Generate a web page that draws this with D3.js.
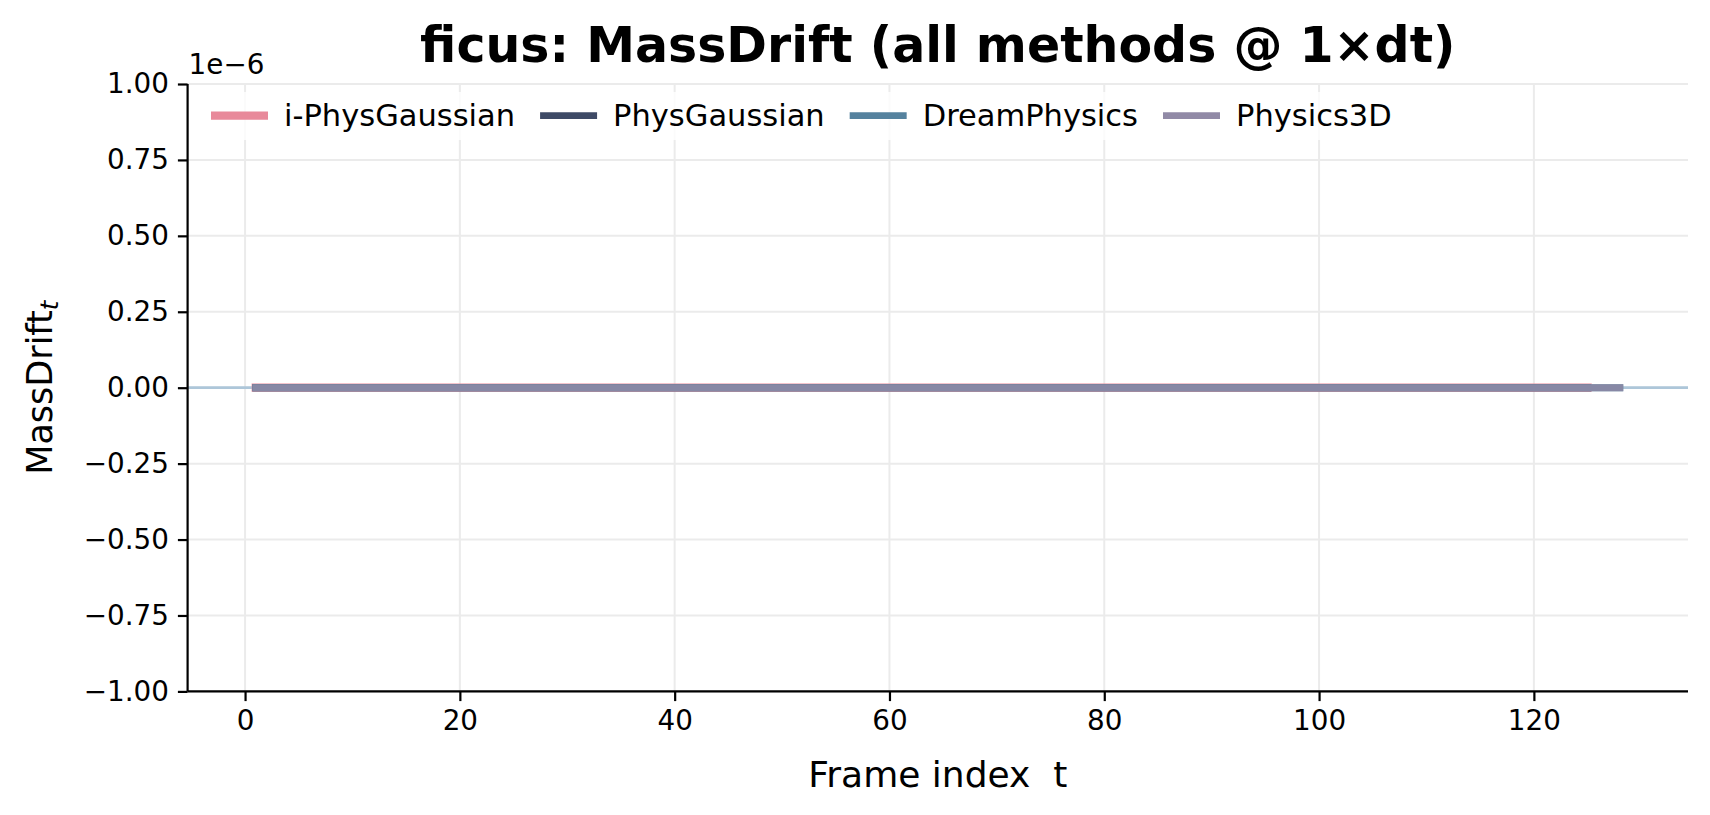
<!DOCTYPE html>
<html lang="en">
  <head>
    <meta charset="UTF-8" />
    <title>ficus MassDrift</title>
    <script src="https://d3js.org/d3.v7.min.js"></script>
    <style>
      body {
        margin: 0;
        background: #fff;
      }
      svg {
        display: block;
        font-family: "DejaVu Sans", sans-serif;
      }
      .tick text {
        font-size: 27.8px;
        fill: #000;
      }
    </style>
  </head>
  <body>
    <svg id="chart"></svg>
    <script>
      // methods, colours and line widths (legend order = draw order)
      const methods = ["i-PhysGaussian", "PhysGaussian", "DreamPhysics", "Physics3D"];
      const colors = ["#e8899a", "#3e4a66", "#55829e", "#918aa6"];
      const firstFrame = [1, 1, 1, 1];

      // MassDrift_t: every method sits flat on 0
      const iPhysGaussian = [
        0, 0, 0, 0, 0, 0, 0, 0, 0, 0, 0, 0, 0, 0, 0, 0, 0, 0, 0, 0, 0, 0, 0, 0, 0,
        0, 0, 0, 0, 0, 0, 0, 0, 0, 0, 0, 0, 0, 0, 0, 0, 0, 0, 0, 0, 0, 0, 0, 0, 0,
        0, 0, 0, 0, 0, 0, 0, 0, 0, 0, 0, 0, 0, 0, 0, 0, 0, 0, 0, 0, 0, 0, 0, 0, 0,
        0, 0, 0, 0, 0, 0, 0, 0, 0, 0, 0, 0, 0, 0, 0, 0, 0, 0, 0, 0, 0, 0, 0, 0, 0,
        0, 0, 0, 0, 0, 0, 0, 0, 0, 0, 0, 0, 0, 0, 0, 0, 0, 0, 0, 0, 0, 0, 0, 0, 0
      ];
      const physGaussian = [
        0, 0, 0, 0, 0, 0, 0, 0, 0, 0, 0, 0, 0, 0, 0, 0, 0, 0, 0, 0, 0, 0, 0, 0, 0,
        0, 0, 0, 0, 0, 0, 0, 0, 0, 0, 0, 0, 0, 0, 0, 0, 0, 0, 0, 0, 0, 0, 0, 0, 0,
        0, 0, 0, 0, 0, 0, 0, 0, 0, 0, 0, 0, 0, 0, 0, 0, 0, 0, 0, 0, 0, 0, 0, 0, 0,
        0, 0, 0, 0, 0, 0, 0, 0, 0, 0, 0, 0, 0, 0, 0, 0, 0, 0, 0, 0, 0, 0, 0, 0, 0,
        0, 0, 0, 0, 0, 0, 0, 0, 0, 0, 0, 0, 0, 0, 0, 0, 0, 0, 0, 0, 0, 0, 0, 0, 0
      ];
      const dreamPhysics = [
        0, 0, 0, 0, 0, 0, 0, 0, 0, 0, 0, 0, 0, 0, 0, 0, 0, 0, 0, 0, 0, 0, 0, 0, 0,
        0, 0, 0, 0, 0, 0, 0, 0, 0, 0, 0, 0, 0, 0, 0, 0, 0, 0, 0, 0, 0, 0, 0, 0, 0,
        0, 0, 0, 0, 0, 0, 0, 0, 0, 0, 0, 0, 0, 0, 0, 0, 0, 0, 0, 0, 0, 0, 0, 0, 0,
        0, 0, 0, 0, 0, 0, 0, 0, 0, 0, 0, 0, 0, 0, 0, 0, 0, 0, 0, 0, 0, 0, 0, 0, 0,
        0, 0, 0, 0, 0, 0, 0, 0, 0, 0, 0, 0, 0, 0, 0, 0, 0, 0, 0, 0, 0, 0, 0, 0, 0,
        0, 0, 0
      ];
      const physics3D = [
        0, 0, 0, 0, 0, 0, 0, 0, 0, 0, 0, 0, 0, 0, 0, 0, 0, 0, 0, 0, 0, 0, 0, 0, 0,
        0, 0, 0, 0, 0, 0, 0, 0, 0, 0, 0, 0, 0, 0, 0, 0, 0, 0, 0, 0, 0, 0, 0, 0, 0,
        0, 0, 0, 0, 0, 0, 0, 0, 0, 0, 0, 0, 0, 0, 0, 0, 0, 0, 0, 0, 0, 0, 0, 0, 0,
        0, 0, 0, 0, 0, 0, 0, 0, 0, 0, 0, 0, 0, 0, 0, 0, 0, 0, 0, 0, 0, 0, 0, 0, 0,
        0, 0, 0, 0, 0, 0, 0, 0, 0, 0, 0, 0, 0, 0, 0, 0, 0, 0, 0, 0, 0, 0, 0, 0, 0,
        0, 0, 0
      ];
      const seriesValues = [iPhysGaussian, physGaussian, dreamPhysics, physics3D];

      const xTicks = [0, 20, 40, 60, 80, 100, 120];
      const yTicks = [-1e-6, -0.75e-6, -0.5e-6, -0.25e-6, 0, 0.25e-6, 0.5e-6, 0.75e-6, 1e-6];

      const width = 1710;
      const height = 815;
      const margin = { top: 84, right: 22, bottom: 123.6, left: 187.6 };

      const svg = d3.select("#chart").attr("width", width).attr("height", height);

      // frames of each series
      const series = methods.map((name, i) => ({
        name: name,
        color: colors[i],
        points: seriesValues[i].map((v, k) => [firstFrame[i] + k, v])
      }));

      // x limits like matplotlib: 5% margin around the data
      const allT = series.flatMap((s) => s.points.map((p) => p[0]));
      const tMin = d3.min(allT);
      const tMax = d3.max(allT);
      const pad = (tMax - tMin) * 0.05;

      const x = d3
        .scaleLinear()
        .domain([tMin - pad, tMax + pad])
        .range([margin.left, width - margin.right]);

      const y = d3
        .scaleLinear()
        .domain([-1e-6, 1e-6])
        .range([height - margin.bottom, margin.top]);

      const fmt = (v) => {
        const s = (v * 1e6).toFixed(2);
        return s.replace("-", "\u2212");
      };

      // grid
      const grid = svg.append("g");
      grid
        .selectAll("line.gx")
        .data(xTicks)
        .enter()
        .append("line")
        .attr("x1", (d) => x(d))
        .attr("x2", (d) => x(d))
        .attr("y1", y.range()[0])
        .attr("y2", y.range()[1])
        .attr("stroke", "#ebebeb")
        .attr("stroke-width", 2);
      grid
        .selectAll("line.gy")
        .data(yTicks)
        .enter()
        .append("line")
        .attr("x1", x.range()[0])
        .attr("x2", x.range()[1])
        .attr("y1", (d) => y(d))
        .attr("y2", (d) => y(d))
        .attr("stroke", "#ebebeb")
        .attr("stroke-width", 2);

      // zero reference line
      svg
        .append("line")
        .attr("x1", x.range()[0])
        .attr("x2", x.range()[1])
        .attr("y1", y(0))
        .attr("y2", y(0))
        .attr("stroke", "#adc6d9")
        .attr("stroke-width", 2.8);

      const line = d3
        .line()
        .x((d) => x(d[0]))
        .y((d) => y(d[1]));

      svg
        .append("g")
        .selectAll("path")
        .data(series)
        .enter()
        .append("path")
        .attr("d", (d) => line(d.points))
        .attr("fill", "none")
        .attr("stroke", (d) => d.color)
        .attr("stroke-width", (d, i) => (i === 0 ? 8.3 : 6.9))
        .attr("stroke-linecap", "square")
        .attr("opacity", (d, i) => (i === 3 ? 0.85 : 1));

      // axes
      const xAxis = svg
        .append("g")
        .attr("transform", `translate(0,${y.range()[0]})`)
        .call(d3.axisBottom(x).tickValues(xTicks).tickSize(9.7).tickPadding(9));
      const yAxis = svg
        .append("g")
        .attr("transform", `translate(${x.range()[0]},0)`)
        .call(d3.axisLeft(y).tickValues(yTicks).tickFormat(fmt).tickSize(9.7).tickPadding(9));

      [xAxis, yAxis].forEach((a) => {
        a.select(".domain").attr("stroke", "#000").attr("stroke-width", 2.2);
        a.selectAll(".tick line").attr("stroke", "#000").attr("stroke-width", 2.2);
        a.selectAll(".tick text").attr("font-family", "DejaVu Sans");
      });
      xAxis.select(".domain").attr("d", `M${x.range()[0]},0H${x.range()[1]}`);
      yAxis.select(".domain").attr("d", `M0,${y.range()[0]}V${y.range()[1]}`);
      xAxis.selectAll(".tick text").attr("dy", "0.71em");

      // offset text
      svg
        .append("text")
        .attr("x", x.range()[0] + 1)
        .attr("y", 74)
        .attr("font-size", 27.8)
        .text("1e\u22126");

      // title
      svg
        .append("text")
        .attr("x", (x.range()[0] + x.range()[1]) / 2)
        .attr("y", 62)
        .attr("text-anchor", "middle")
        .attr("font-size", 49)
        .attr("font-weight", "bold")
        .text("ficus: MassDrift (all methods @ 1\u00d7dt)");

      // axis labels
      svg
        .append("text")
        .attr("x", (x.range()[0] + x.range()[1]) / 2)
        .attr("y", 787)
        .attr("text-anchor", "middle")
        .attr("font-size", 36)
        .style("white-space", "pre")
        .text("Frame index  t");

      const yl = svg
        .append("text")
        .attr("transform", `translate(52,${(y.range()[0] + y.range()[1]) / 2}) rotate(-90)`)
        .attr("text-anchor", "middle")
        .attr("font-size", 35);
      yl.append("tspan").text("MassDrift");
      yl.append("tspan")
        .attr("font-style", "italic")
        .attr("font-size", 24.5)
        .attr("dy", 6)
        .text("t");

      // legend
      const legend = svg.append("g");
      const legendBox = legend
        .append("rect")
        .attr("x", 198)
        .attr("y", 92)
        .attr("height", 48)
        .attr("rx", 5)
        .attr("fill", "#fff")
        .attr("opacity", 0.8);
      let lx = 211;
      const ly = 115.6;
      series.forEach((s, i) => {
        legend
          .append("line")
          .attr("x1", lx)
          .attr("x2", lx + 57)
          .attr("y1", ly)
          .attr("y2", ly)
          .attr("stroke", s.color)
          .attr("stroke-width", i === 0 ? 8.3 : 6.9);
        const t = legend
          .append("text")
          .attr("x", lx + 73)
          .attr("y", ly + 10.5)
          .attr("font-size", 30.5)
          .text(s.name);
        lx += 73 + t.node().getComputedTextLength() + 25;
      });
      legendBox.attr("width", lx - 198);
    </script>
  </body>
</html>
